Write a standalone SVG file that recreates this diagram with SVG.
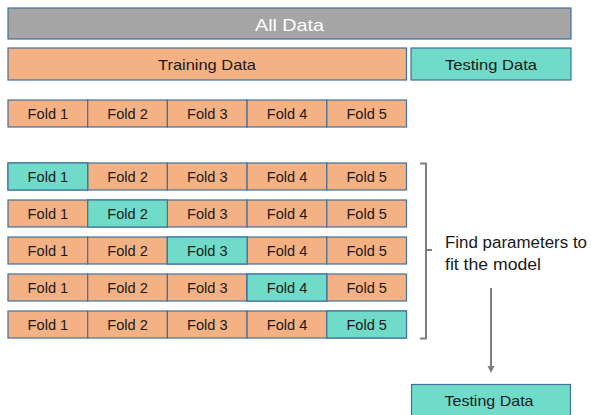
<svg xmlns="http://www.w3.org/2000/svg" width="591" height="415" viewBox="0 0 591 415">
  <style>
    .box { stroke: #41719C; stroke-width: 1.2; }
    .train { fill: #F4B183; }
    .test { fill: #70DBC9; }
    .all { fill: #A6A6A6; }
    text { font-family: "Liberation Sans", Arial, sans-serif; fill: #1a1a1a; text-anchor: middle; }
    .lbl { font-size: 15px; }
    .fold { font-size: 14.6px; }
    .big { font-size: 17px; fill: #ffffff; }
    .note { font-size: 16px; text-anchor: start; }
    .conn { stroke: #7F7F7F; stroke-width: 2; fill: none; }
  </style>
  <defs>
    <marker id="arrow" markerWidth="8" markerHeight="8" refX="4" refY="7" orient="auto-start-reverse" markerUnits="userSpaceOnUse" viewBox="0 0 8 8">
      <path d="M0.5,0 L7.5,0 L4,7 Z" fill="#7F7F7F" transform="rotate(-90 4 4)"/>
    </marker>
    <symbol id="foldrow" overflow="visible">
      <rect class="box train" x="8" y="0" width="79.7" height="27"/>
      <rect class="box train" x="87.7" y="0" width="79.7" height="27"/>
      <rect class="box train" x="167.4" y="0" width="79.7" height="27"/>
      <rect class="box train" x="247.1" y="0" width="79.7" height="27"/>
      <rect class="box train" x="326.8" y="0" width="79.7" height="27"/>
    </symbol>
  </defs>

  <g id="all-data">
    <rect class="box all" x="8" y="8" width="563" height="31"/>
    <text class="big" x="289.5" y="30.5" textLength="69" lengthAdjust="spacingAndGlyphs">All Data</text>
  </g>

  <g id="training-data">
    <rect class="box train" x="8" y="48" width="398.5" height="32"/>
    <text class="lbl" x="207" y="70" textLength="98" lengthAdjust="spacingAndGlyphs">Training Data</text>
  </g>

  <g id="testing-data">
    <rect class="box test" x="411" y="48" width="160" height="32"/>
    <text class="lbl" x="491" y="70" textLength="92" lengthAdjust="spacingAndGlyphs">Testing Data</text>
  </g>

  <!-- plain split into five folds -->
  <g id="folds">
    <use href="#foldrow" y="100"/>
    <text class="fold" x="47.9" y="119">Fold 1</text>
    <text class="fold" x="127.6" y="119">Fold 2</text>
    <text class="fold" x="207.3" y="119">Fold 3</text>
    <text class="fold" x="287" y="119">Fold 4</text>
    <text class="fold" x="366.7" y="119">Fold 5</text>
  </g>

  <!-- cross-validation rounds: one validation fold per row -->
  <g id="round-1">
    <use href="#foldrow" y="163"/>
    <rect class="box test" x="8" y="163" width="79.7" height="27"/>
    <text class="fold" x="47.9" y="182">Fold 1</text>
    <text class="fold" x="127.6" y="182">Fold 2</text>
    <text class="fold" x="207.3" y="182">Fold 3</text>
    <text class="fold" x="287" y="182">Fold 4</text>
    <text class="fold" x="366.7" y="182">Fold 5</text>
  </g>
  <g id="round-2">
    <use href="#foldrow" y="200"/>
    <rect class="box test" x="87.7" y="200" width="79.7" height="27"/>
    <text class="fold" x="47.9" y="219">Fold 1</text>
    <text class="fold" x="127.6" y="219">Fold 2</text>
    <text class="fold" x="207.3" y="219">Fold 3</text>
    <text class="fold" x="287" y="219">Fold 4</text>
    <text class="fold" x="366.7" y="219">Fold 5</text>
  </g>
  <g id="round-3">
    <use href="#foldrow" y="237"/>
    <rect class="box test" x="167.4" y="237" width="79.7" height="27"/>
    <text class="fold" x="47.9" y="256">Fold 1</text>
    <text class="fold" x="127.6" y="256">Fold 2</text>
    <text class="fold" x="207.3" y="256">Fold 3</text>
    <text class="fold" x="287" y="256">Fold 4</text>
    <text class="fold" x="366.7" y="256">Fold 5</text>
  </g>
  <g id="round-4">
    <use href="#foldrow" y="274"/>
    <rect class="box test" x="247.1" y="274" width="79.7" height="27"/>
    <text class="fold" x="47.9" y="293">Fold 1</text>
    <text class="fold" x="127.6" y="293">Fold 2</text>
    <text class="fold" x="207.3" y="293">Fold 3</text>
    <text class="fold" x="287" y="293">Fold 4</text>
    <text class="fold" x="366.7" y="293">Fold 5</text>
  </g>
  <g id="round-5">
    <use href="#foldrow" y="311"/>
    <rect class="box test" x="326.8" y="311" width="79.7" height="27"/>
    <text class="fold" x="47.9" y="330">Fold 1</text>
    <text class="fold" x="127.6" y="330">Fold 2</text>
    <text class="fold" x="207.3" y="330">Fold 3</text>
    <text class="fold" x="287" y="330">Fold 4</text>
    <text class="fold" x="366.7" y="330">Fold 5</text>
  </g>

  <g id="fit-note">
    <text class="note" x="445" y="248" textLength="142" lengthAdjust="spacingAndGlyphs">Find parameters to</text>
    <text class="note" x="445" y="270" textLength="96" lengthAdjust="spacingAndGlyphs">fit the model</text>
  </g>

  <g id="final-testing">
    <rect class="box test" x="411.5" y="384.5" width="159" height="40"/>
    <text class="lbl" x="489" y="406" textLength="89" lengthAdjust="spacingAndGlyphs">Testing Data</text>
  </g>

  <g id="connectors">
    <path class="conn" d="M420,163.5 H426 V338.5 H420 M426,250 H432"/>
    <path class="conn" d="M491,288 V366"/>
    <path d="M487.5,366 L494.5,366 L491,373 Z" fill="#7F7F7F"/>
  </g>
</svg>
